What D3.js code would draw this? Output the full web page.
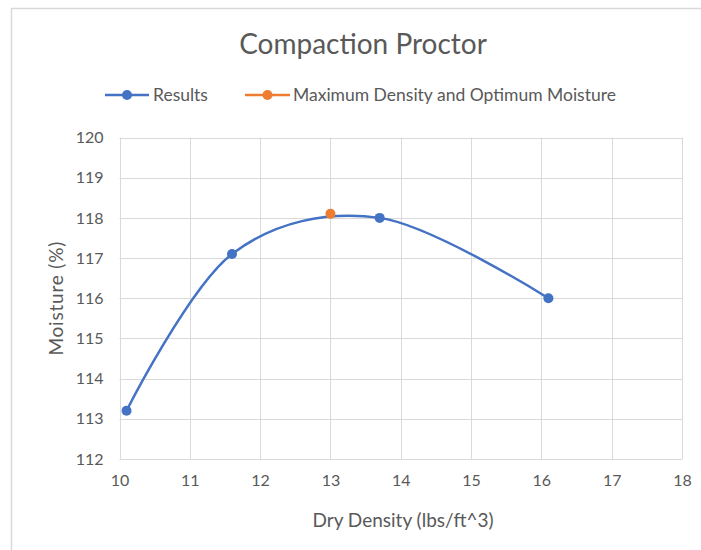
<!DOCTYPE html>
<html>
<head>
<meta charset="utf-8">
<script src="https://cdn.jsdelivr.net/npm/d3@7"></script>
<style>
  html, body { margin: 0; padding: 0; background: #fff; }
  svg { display: block; font-family: Lato, "Open Sans", sans-serif; }
</style>
</head>
<body>
<svg id="chart" width="701" height="550"></svg>
<script>
// ---- Data ----
const resultsDensity = [10.1, 11.6, 13.7, 16.1];
const resultsMoisture = [113.2, 117.1, 118.0, 116.0];
const maxDensity = [13.0];
const maxMoisture = [118.1];
const xTicks = [10, 11, 12, 13, 14, 15, 16, 17, 18];
const yTicks = [112, 113, 114, 115, 116, 117, 118, 119, 120];
const seriesNames = ["Results", "Maximum Density and Optimum Moisture"];
const seriesColors = ["#4472c4", "#ed7d31"];
const chartTitle = "Compaction Proctor";
const xTitle = "Dry Density (lbs/ft^3)";
const yTitle = "Moisture (%)";

// ---- Layout ----
const svg = d3.select("#chart");
const W = 701, H = 550;
const plot = { left: 119.5, right: 682, top: 137.5, bottom: 459 };

svg.append("rect").attr("x", 11.5).attr("y", 8.5).attr("width", W + 10).attr("height", H + 10)
  .attr("fill", "#fff").attr("stroke", "#d9d9d9").attr("stroke-width", 1.5);

const x = d3.scaleLinear().domain([10, 18]).range([plot.left, plot.right]);
const y = d3.scaleLinear().domain([112, 120]).range([plot.bottom, plot.top]);

// gridlines
const grid = svg.append("g");
grid.selectAll(".vg").data(xTicks).join("line")
  .attr("x1", d => Math.round(x(d)) + 0.5).attr("x2", d => Math.round(x(d)) + 0.5)
  .attr("y1", plot.top).attr("y2", plot.bottom)
  .attr("stroke", "#d9d9d9").attr("stroke-width", 1);
grid.selectAll(".hg").data(yTicks).join("line")
  .attr("y1", d => Math.round(y(d)) + 0.5).attr("y2", d => Math.round(y(d)) + 0.5)
  .attr("x1", plot.left).attr("x2", plot.right)
  .attr("stroke", "#d9d9d9").attr("stroke-width", 1);

// axes (labels only)
const xAxis = svg.append("g").attr("transform", `translate(0,${plot.bottom})`)
  .call(d3.axisBottom(x).tickValues(xTicks).tickSize(0).tickPadding(16).tickFormat(d3.format("d")));
const yAxis = svg.append("g").attr("transform", `translate(${plot.left},0)`)
  .call(d3.axisLeft(y).tickValues(yTicks).tickSize(0).tickPadding(16).tickFormat(d3.format("d")));
[xAxis, yAxis].forEach(a => {
  a.select(".domain").remove();
  a.selectAll("text").attr("fill", "#595959").style("font-size", "16px").style("font-family", "Lato, sans-serif");
});

// line
const pts = resultsDensity.map((d, i) => [d, resultsMoisture[i]]);
const line = d3.line().x(d => x(d[0])).y(d => y(d[1])).curve(d3.curveCatmullRom.alpha(0));
svg.append("path").datum(pts).attr("d", line)
  .attr("fill", "none").attr("stroke", seriesColors[0]).attr("stroke-width", 2.5);

svg.selectAll(".pt").data(pts).join("circle")
  .attr("cx", d => x(d[0])).attr("cy", d => y(d[1])).attr("r", 5)
  .attr("fill", seriesColors[0]);

const maxPts = maxDensity.map((d, i) => [d, maxMoisture[i]]);
svg.selectAll(".mpt").data(maxPts).join("circle")
  .attr("cx", d => x(d[0])).attr("cy", d => y(d[1])).attr("r", 5)
  .attr("fill", seriesColors[1]);

// title
svg.append("text").attr("x", 363).attr("y", 54).attr("text-anchor", "middle")
  .attr("fill", "#595959").style("font-size", "28px").text(chartTitle);

// legend
const legendItems = [
  { x0: 105, x1: 149, tx: 153 },
  { x0: 245, x1: 290, tx: 293 }
];
const ly = 95;
const lg = svg.append("g");
seriesNames.forEach((name, i) => {
  const it = legendItems[i];
  lg.append("line").attr("x1", it.x0).attr("x2", it.x1).attr("y1", ly).attr("y2", ly)
    .attr("stroke", seriesColors[i]).attr("stroke-width", 2.5);
  lg.append("circle").attr("cx", (it.x0 + it.x1) / 2).attr("cy", ly).attr("r", 5).attr("fill", seriesColors[i]);
  lg.append("text").attr("x", it.tx).attr("y", ly + 6).attr("fill", "#595959")
    .style("font-size", "17.5px").text(name);
});

// axis titles
svg.append("text").attr("x", 403).attr("y", 527).attr("text-anchor", "middle")
  .attr("fill", "#595959").style("font-size", "19px").text(xTitle);
svg.append("text").attr("transform", `translate(63,${(plot.top + plot.bottom) / 2}) rotate(-90)`)
  .attr("text-anchor", "middle").attr("fill", "#595959").style("font-size", "19px")
  .style("letter-spacing", "0.8px").text(yTitle);
</script>
</body>
</html>
